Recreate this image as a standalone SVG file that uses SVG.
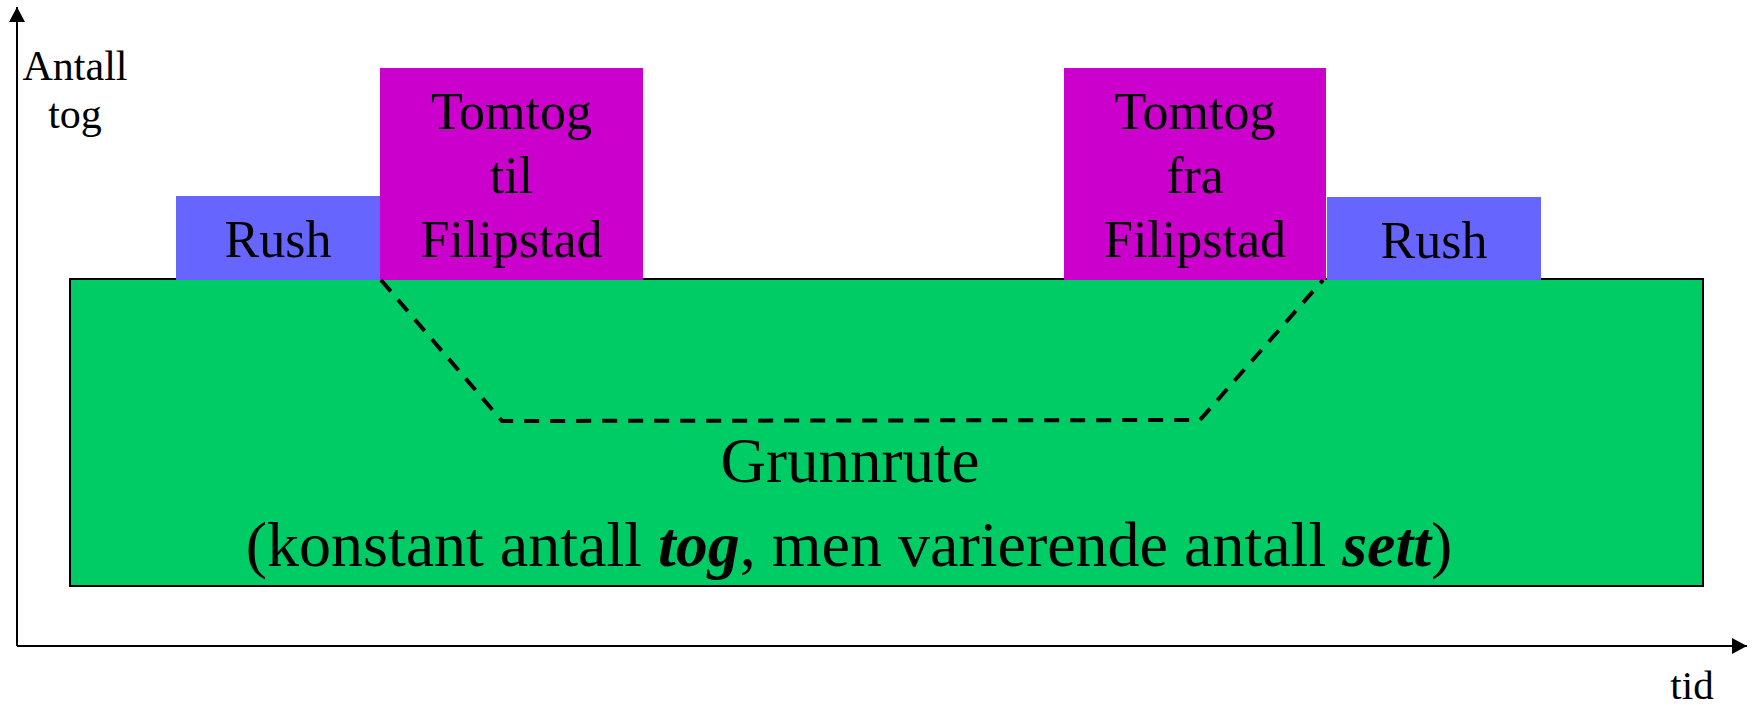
<svg xmlns="http://www.w3.org/2000/svg" width="1756" height="705" viewBox="0 0 1756 705">
  <style>
    .lbl { font-family: "Liberation Serif", "Times New Roman", serif; fill: #000; text-anchor: middle; }
    .box-label { font-size: 52px; }
    .base-label { font-size: 63px; }
    .axis-label { font-size: 42px; }
    .axis { stroke: #000; stroke-width: 2; fill: none; }
    .rush { fill: #6666FF; }
    .empty { fill: #CC00CC; }
    .em { font-weight: bold; font-style: italic; }
  </style>
  <defs>
    <marker id="arrow" viewBox="0 0 15 16" refX="15" refY="8" markerWidth="15" markerHeight="16" markerUnits="userSpaceOnUse" orient="auto">
      <path d="M0,0 L15,8 L0,16 Z" fill="#000"/>
    </marker>
  </defs>

  <rect width="1756" height="705" fill="#fff"/>

  <!-- axes -->
  <g id="axes">
    <line class="axis" x1="17" y1="646" x2="17" y2="7" marker-end="url(#arrow)"/>
    <line class="axis" x1="17" y1="646" x2="1747" y2="646" marker-end="url(#arrow)"/>
    <text class="lbl axis-label" x="75" y="80">Antall</text>
    <text class="lbl axis-label" x="75" y="128">tog</text>
    <text class="lbl" style="font-size:41px" x="1692" y="699">tid</text>
  </g>

  <!-- base timetable -->
  <g id="grunnrute">
    <rect x="70" y="279" width="1633" height="307" fill="#00CC66" stroke="#000" stroke-width="2"/>
    <text class="lbl base-label" x="850" y="482">Grunnrute</text>
    <text class="lbl base-label" style="font-size:64px" x="849" y="566">(konstant antall <tspan class="em">tog</tspan>, men varierende antall <tspan class="em">sett</tspan>)</text>
  </g>

  <g id="rush-left">
    <rect class="rush" x="176" y="196" width="204" height="84"/>
    <text class="lbl box-label" x="278" y="257">Rush</text>
  </g>

  <g id="tomtog-til">
    <rect class="empty" x="380" y="68" width="263" height="212"/>
    <text class="lbl box-label" x="511.5" y="129">Tomtog</text>
    <text class="lbl box-label" x="511.5" y="193">til</text>
    <text class="lbl box-label" x="511.5" y="257">Filipstad</text>
  </g>

  <g id="tomtog-fra">
    <rect class="empty" x="1064" y="68" width="262" height="212"/>
    <text class="lbl box-label" x="1195" y="129">Tomtog</text>
    <text class="lbl box-label" x="1195" y="193">fra</text>
    <text class="lbl box-label" x="1195" y="257">Filipstad</text>
  </g>

  <g id="rush-right">
    <rect class="rush" x="1327" y="197" width="214" height="83"/>
    <text class="lbl box-label" x="1434" y="258">Rush</text>
  </g>

  <!-- connectors -->
  <g id="connectors">
    <path d="M381,280 L502,421 L1200,420 L1323,280" fill="none" stroke="#000" stroke-width="4" stroke-dasharray="15 11"/>
  </g>
</svg>
